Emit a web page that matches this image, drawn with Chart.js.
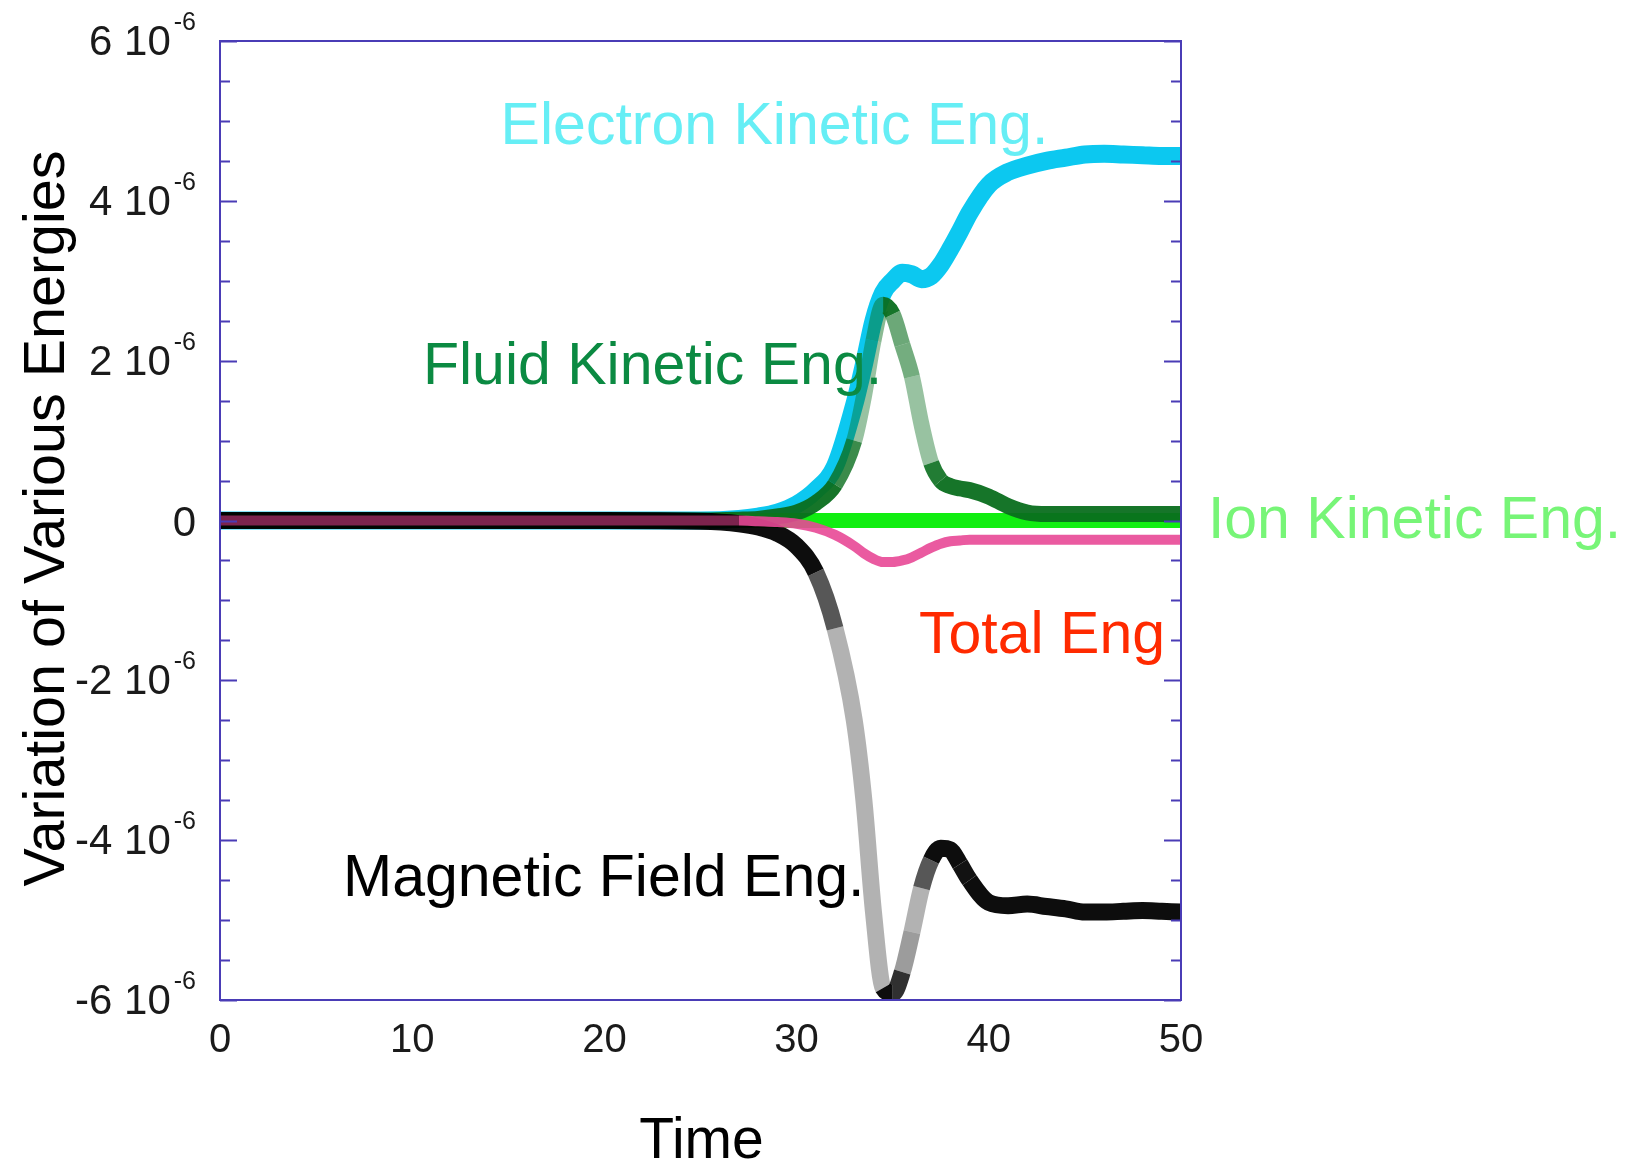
<!DOCTYPE html>
<html>
<head>
<meta charset="utf-8">
<script src="https://cdn.jsdelivr.net/npm/chart.js@4.4.1/dist/chart.umd.min.js"></script>
<style>
  html, body { margin: 0; padding: 0; background: #fff; }
  canvas { display: block; }
</style>
</head>
<body>
<canvas id="energyChart" width="1638" height="1169"></canvas>
<script>
// values, energies in units of 10^-6
const time = [0, 5, 10, 15, 20, 25, 27, 28, 29, 30, 31, 32, 33, 33.5, 34, 34.5, 35, 35.5, 36, 36.5,
  37, 37.5, 38, 38.5, 39, 40, 41, 42, 43, 44, 45, 46, 47, 48, 49, 50];

const electronKinetic = [0, 0, 0, 0, 0, 0, 0.02, 0.05, 0.1, 0.2, 0.38, 0.68, 1.45, 1.95, 2.5, 2.85, 3.0, 3.1, 3.08, 3.02,
  3.06, 3.2, 3.4, 3.62, 3.85, 4.2, 4.36, 4.44, 4.5, 4.54, 4.58, 4.59, 4.58, 4.57, 4.56, 4.56];

const fluidKinetic = [0, 0, 0, 0, 0, 0, 0.01, 0.02, 0.05, 0.1, 0.22, 0.45, 1.0, 1.55, 2.25, 2.7, 2.58, 2.2, 1.8, 1.2,
  0.72, 0.5, 0.43, 0.4, 0.38, 0.3, 0.18, 0.1, 0.08, 0.08, 0.08, 0.08, 0.08, 0.08, 0.08, 0.08];

const ionKinetic = [0, 0, 0, 0, 0, 0, 0, 0, 0, 0, 0, 0, 0, 0, 0, 0, 0, 0, 0, 0,
  0, 0, 0, 0, 0, 0, 0, 0, 0, 0, 0, 0, 0, 0, 0, 0];

const magneticField = [0, 0, 0, 0, 0, -0.01, -0.04, -0.08, -0.16, -0.32, -0.65, -1.35, -2.5, -3.5, -4.9, -5.85, -5.92, -5.65, -5.15, -4.6,
  -4.25, -4.1, -4.12, -4.3, -4.5, -4.78, -4.82, -4.8, -4.83, -4.86, -4.9, -4.9, -4.89, -4.88, -4.89, -4.9];

const totalEnergy = [0, 0, 0, 0, 0, 0, 0, -0.01, -0.02, -0.04, -0.09, -0.18, -0.32, -0.41, -0.48, -0.52, -0.52, -0.5, -0.46, -0.4,
  -0.34, -0.29, -0.26, -0.25, -0.24, -0.24, -0.24, -0.24, -0.24, -0.24, -0.24, -0.24, -0.24, -0.24, -0.24, -0.24];

const xTicks = [0, 10, 20, 30, 40, 50];
const yTicks = [-6, -4, -2, 0, 2, 4, 6];
const yTickLabels = [["-6 10", "-6"], ["-4 10", "-6"], ["-2 10", "-6"], ["0", ""], ["2 10", "-6"], ["4 10", "-6"], ["6 10", "-6"]];

const seriesNames = ["Electron Kinetic Eng.", "Fluid Kinetic Eng.", "Ion Kinetic Eng.", "Total Eng", "Magnetic Field Eng."];

const FONT = '"Liberation Sans", Arial, Helvetica, sans-serif';
const AXIS_COLOR = "#4a3cb6";

function points(values) {
  return time.map((t, i) => ({ x: t, y: values[i] }));
}

// steep parts of the curves look see-through in the original (sparse markers)
function steepColor(r, g, b, minAlpha) {
  return (ctx) => {
    const dx = Math.abs(ctx.p1.x - ctx.p0.x) || 1;
    const s = Math.abs(ctx.p1.y - ctx.p0.y) / dx;
    const a = Math.max(minAlpha, Math.min(0.95, 1.3 - 0.22 * s));
    return `rgba(${r},${g},${b},${a.toFixed(2)})`;
  };
}

// label anchors in data coordinates (left edge, baseline)
const annotations = [
  { text: seriesNames[0], color: "#66eef5", x: 14.6, y: 4.71 },
  { text: seriesNames[1], color: "#0b8a42", x: 10.56, y: 1.71 },
  { text: seriesNames[2], color: "#77f577", x: 51.4, y: -0.22 },
  { text: seriesNames[3], color: "#ff2a00", x: 36.37, y: -1.66 },
  { text: seriesNames[4], color: "#000000", x: 6.4, y: -4.7 }
];

const framePlugin = {
  id: "frame",
  afterDatasetsDraw(chart) {
    const { ctx, chartArea: a, scales } = chart;
    const xs = scales.x, ys = scales.y;
    ctx.save();

    // frame
    ctx.strokeStyle = AXIS_COLOR;
    ctx.lineWidth = 2;
    ctx.strokeRect(a.left, a.top, a.right - a.left, a.bottom - a.top);

    // inward ticks on left and right
    for (let v = -6; v <= 6; v += 0.5) {
      const py = Math.round(ys.getPixelForValue(v)) + 0.5;
      const len = (v % 2 === 0) ? 17 : 10;
      ctx.beginPath();
      ctx.moveTo(a.left, py); ctx.lineTo(a.left + len, py);
      ctx.moveTo(a.right, py); ctx.lineTo(a.right - len, py);
      ctx.stroke();
    }

    // y tick labels with exponent
    ctx.fillStyle = "#1a1a1a";
    ctx.textBaseline = "alphabetic";
    yTicks.forEach((v, i) => {
      const py = ys.getPixelForValue(v);
      const [base, exp] = yTickLabels[i];
      const right = a.left - 24;
      ctx.textAlign = "right";
      if (exp) {
        ctx.font = "25px " + FONT;
        ctx.fillText(exp, right, py - 11);
        const w = ctx.measureText(exp).width;
        ctx.font = "42px " + FONT;
        ctx.fillText(base, right - w - 3, py + 14);
      } else {
        ctx.font = "42px " + FONT;
        ctx.fillText(base, right, py + 15);
      }
    });

    // x tick labels
    ctx.font = "40px " + FONT;
    ctx.textAlign = "center";
    xTicks.forEach((v) => {
      ctx.fillText(String(v), xs.getPixelForValue(v), a.bottom + 52);
    });

    // axis titles
    ctx.fillStyle = "#000";
    ctx.font = "57px " + FONT;
    ctx.fillText("Time", (a.left + a.right) / 2 + 1, 1158);

    ctx.save();
    ctx.translate(64, (a.top + a.bottom) / 2 - 2);
    ctx.rotate(-Math.PI / 2);
    ctx.font = "57.5px " + FONT;
    ctx.textAlign = "center";
    ctx.fillText("Variation of Various Energies", 0, 0);
    ctx.restore();

    // series labels
    ctx.font = "59px " + FONT;
    ctx.textAlign = "left";
    annotations.forEach((l) => {
      ctx.fillStyle = l.color;
      ctx.fillText(l.text, xs.getPixelForValue(l.x), ys.getPixelForValue(l.y));
    });

    ctx.restore();
  }
};

const lineBase = {
  pointRadius: 0,
  pointHoverRadius: 0,
  cubicInterpolationMode: "monotone",
  borderCapStyle: "round",
  borderJoinStyle: "round",
  fill: false
};

new Chart(document.getElementById("energyChart"), {
  type: "line",
  data: {
    datasets: [
      // first dataset is drawn on top
      Object.assign({}, lineBase, {
        label: seriesNames[3], data: points(totalEnergy),
        borderColor: "rgba(232,72,150,0.9)", borderWidth: 10, borderCapStyle: "butt",
        segment: {
          borderColor: (c) => (c.p0.parsed.y === 0 && c.p1.parsed.y === 0)
            ? "rgba(225,60,140,0.55)" : "rgba(232,72,150,0.9)"
        }
      }),
      Object.assign({}, lineBase, {
        label: seriesNames[4], data: points(magneticField),
        borderColor: "#000", borderWidth: 17, borderCapStyle: "butt",
        segment: { borderColor: steepColor(0, 0, 0, 0.3) }
      }),
      Object.assign({}, lineBase, {
        label: seriesNames[1], data: points(fluidKinetic),
        borderColor: "#0a6e1e", borderWidth: 16, borderCapStyle: "butt",
        segment: { borderColor: steepColor(10, 110, 30, 0.42) }
      }),
      Object.assign({}, lineBase, {
        label: seriesNames[2], data: points(ionKinetic),
        borderColor: "#11ee11", borderWidth: 15
      }),
      Object.assign({}, lineBase, {
        label: seriesNames[0], data: points(electronKinetic),
        borderColor: "#0cc8f0", borderWidth: 18
      })
    ]
  },
  options: {
    responsive: false,
    animation: false,
    devicePixelRatio: 1,
    layout: { padding: { left: 220, right: 457, top: 41, bottom: 169 } },
    plugins: { legend: { display: false }, tooltip: { enabled: false } },
    scales: {
      x: { type: "linear", min: 0, max: 50, display: false },
      y: { type: "linear", min: -6, max: 6, display: false }
    }
  },
  plugins: [framePlugin]
});
</script>
</body>
</html>
